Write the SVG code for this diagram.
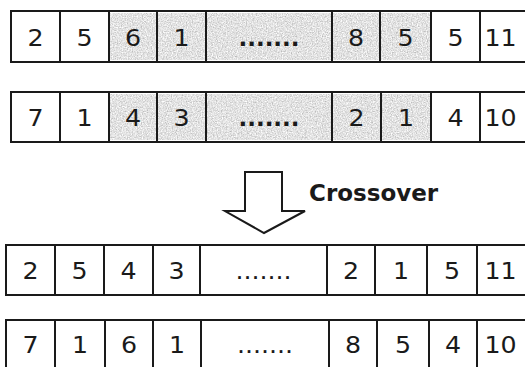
<svg xmlns="http://www.w3.org/2000/svg" width="525" height="367" viewBox="0 0 525 367">
<style>
.box{fill:#fff;stroke:#1a1a1a;stroke-width:2}
.div{stroke:#1a1a1a;stroke-width:2}
.g{fill:#c0c0c0;filter:url(#grain)}
.t{font-family:"DejaVu Sans","Verdana",sans-serif;font-size:23px;fill:#1a1a1a;text-anchor:middle}
.d{font-weight:bold}
.lbl{font-family:"DejaVu Sans","Verdana",sans-serif;font-size:23px;font-weight:bold;fill:#1a1a1a}
.arrow{fill:#fff;stroke:#1a1a1a;stroke-width:2;stroke-linejoin:miter}
</style>
<defs>
<filter id="grain" x="0" y="0" width="100%" height="100%">
<feTurbulence type="fractalNoise" baseFrequency="0.8" numOctaves="2" seed="4" result="n"/>
<feColorMatrix in="n" type="matrix" values="0.8 0 0 0 0.36  0.8 0 0 0 0.36  0.8 0 0 0 0.36  0 0 0 0 1" result="c"/>
<feComposite in="c" in2="SourceGraphic" operator="in"/>
</filter>
</defs>

<g id="parent1">
<rect class="box" x="11" y="11" width="530" height="51"/>
<rect class="g" x="110" y="13" width="46" height="47"/>
<rect class="g" x="158" y="13" width="47" height="47"/>
<rect class="g" x="207" y="13" width="124" height="47"/>
<rect class="g" x="333" y="13" width="46" height="47"/>
<rect class="g" x="381" y="13" width="49" height="47"/>
<path class="div" d="M60,11V62M109,11V62M157,11V62M206,11V62M332,11V62M380,11V62M431,11V62M480,11V62"/>
<text class="t" transform="translate(35.5,45.5) scale(1.1,1)">2</text>
<text class="t" transform="translate(84.5,45.5) scale(1.1,1)">5</text>
<text class="t" transform="translate(133,45.5) scale(1.1,1)">6</text>
<text class="t" transform="translate(181.5,45.5) scale(1.1,1)">1</text>
<text class="t d" transform="translate(269,45.5) scale(1,1)">.......</text>
<text class="t" transform="translate(356,45.5) scale(1.1,1)">8</text>
<text class="t" transform="translate(405.5,45.5) scale(1.1,1)">5</text>
<text class="t" transform="translate(455.5,45.5) scale(1.1,1)">5</text>
<text class="t" transform="translate(500.5,45.5) scale(1.1,1)">11</text>
</g>

<g id="parent2">
<rect class="box" x="11" y="92" width="530" height="50"/>
<rect class="g" x="110" y="94" width="46" height="46"/>
<rect class="g" x="158" y="94" width="47" height="46"/>
<rect class="g" x="207" y="94" width="124" height="46"/>
<rect class="g" x="333" y="94" width="47" height="46"/>
<rect class="g" x="382" y="94" width="48" height="46"/>
<path class="div" d="M60,92V142M109,92V142M157,92V142M206,92V142M332,92V142M381,92V142M431,92V142M480,92V142"/>
<text class="t" transform="translate(35.5,125.5) scale(1.1,1)">7</text>
<text class="t" transform="translate(84.5,125.5) scale(1.1,1)">1</text>
<text class="t" transform="translate(133,125.5) scale(1.1,1)">4</text>
<text class="t" transform="translate(181.5,125.5) scale(1.1,1)">3</text>
<text class="t d" transform="translate(269,125.5) scale(1,1)">.......</text>
<text class="t" transform="translate(356.5,125.5) scale(1.1,1)">2</text>
<text class="t" transform="translate(406,125.5) scale(1.1,1)">1</text>
<text class="t" transform="translate(455.5,125.5) scale(1.1,1)">4</text>
<text class="t" transform="translate(500.5,125.5) scale(1.1,1)">10</text>
</g>

<g id="crossover">
<path class="arrow" d="M245,172H282V211H305L264,233L225,211H245Z"/>
<text class="lbl" x="309" y="201">Crossover</text>
</g>

<g id="child1">
<rect class="box" x="6" y="245" width="535" height="50"/>
<path class="div" d="M55,245V295M104,245V295M153,245V295M200,245V295M327,245V295M375,245V295M427,245V295M477,245V295"/>
<text class="t" transform="translate(30.5,279) scale(1.1,1)">2</text>
<text class="t" transform="translate(79.5,279) scale(1.1,1)">5</text>
<text class="t" transform="translate(128.5,279) scale(1.1,1)">4</text>
<text class="t" transform="translate(176.5,279) scale(1.1,1)">3</text>
<text class="t" transform="translate(263.5,279) scale(1.1,1)">.......</text>
<text class="t" transform="translate(351,279) scale(1.1,1)">2</text>
<text class="t" transform="translate(401,279) scale(1.1,1)">1</text>
<text class="t" transform="translate(452,279) scale(1.1,1)">5</text>
<text class="t" transform="translate(500.5,279) scale(1.1,1)">11</text>
</g>

<g id="child2">
<rect class="box" x="6" y="320" width="535" height="52"/>
<path class="div" d="M55,320V372M105,320V372M153,320V372M201,320V372M329,320V372M377,320V372M429,320V372M477,320V372"/>
<text class="t" transform="translate(30.5,353) scale(1.1,1)">7</text>
<text class="t" transform="translate(80,353) scale(1.1,1)">1</text>
<text class="t" transform="translate(129,353) scale(1.1,1)">6</text>
<text class="t" transform="translate(177,353) scale(1.1,1)">1</text>
<text class="t" transform="translate(265,353) scale(1.1,1)">.......</text>
<text class="t" transform="translate(353,353) scale(1.1,1)">8</text>
<text class="t" transform="translate(403,353) scale(1.1,1)">5</text>
<text class="t" transform="translate(453,353) scale(1.1,1)">4</text>
<text class="t" transform="translate(500.5,353) scale(1.1,1)">10</text>
</g>
</svg>
